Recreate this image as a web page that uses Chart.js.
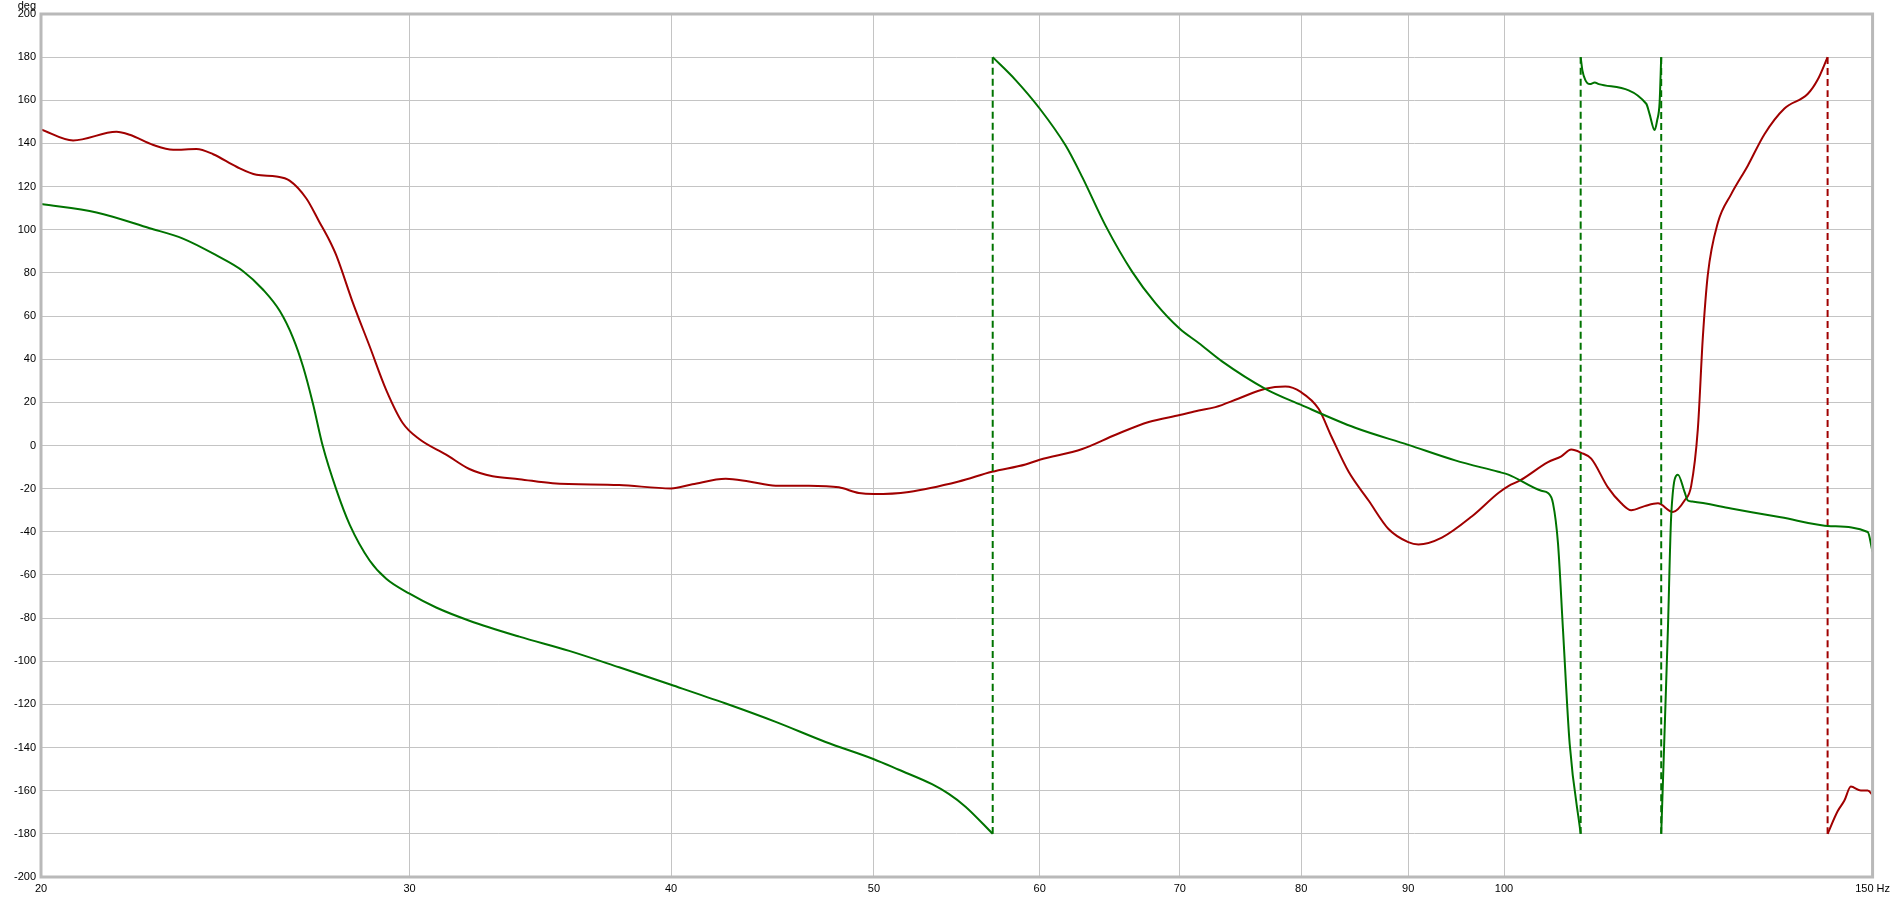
<!DOCTYPE html>
<html>
<head>
<meta charset="utf-8">
<script src="https://cdn.jsdelivr.net/npm/chart.js@4.4.1/dist/chart.umd.min.js"></script>
<style>
  html, body { margin: 0; padding: 0; background: #fff; }
  #wrap { position: relative; width: 1895px; height: 898px; }
</style>
</head>
<body>
<div id="wrap"><canvas id="phase"></canvas></div>
<script>
// axis ticks
const freqTicks = [20, 30, 40, 50, 60, 70, 80, 90, 100, 150];
const degTicks = [-200, -180, -160, -140, -120, -100, -80, -60, -40, -20, 0,
  20, 40, 60, 80, 100, 120, 140, 160, 180, 200];

// red trace (wrapped phase, deg)
const redHz = [20.0, 20.72, 21.73, 22.05, 22.63, 23.13, 23.73, 24.17, 24.8, 25.35,
  25.91, 26.29, 26.78, 27.17, 27.47, 27.68, 28.19, 28.71, 29.24, 29.78,
  30.33, 31.23, 32.04, 32.87, 33.85, 35.11, 37.78, 40.0, 40.95, 42.48,
  43.58, 44.88, 46.55, 48.11, 49.18, 50.0, 51.96, 54.89, 56.93, 59.07,
  60.0, 62.88, 65.23, 67.65, 70.0, 71.47, 72.8, 74.69, 76.91, 78.62,
  80.0, 81.55, 82.75, 84.29, 86.16, 88.07, 90.0, 91.02, 93.39, 96.51,
  99.38, 100.48, 101.78, 104.96, 106.51, 107.68, 108.87, 110.07, 112.11, 113.77,
  115.02, 116.73, 118.45, 120.42, 121.97, 122.86, 123.77, 124.45, 125.14, 126.52,
  128.38, 130.76, 133.18, 136.14, 139.66, 141.2, 142.76, 142.76, 144.34, 145.4,
  146.46, 148.07, 149.2, 150.0];
const redDeg = [146.5, 141.4, 145.4, 144, 139.3, 137.1, 137.4, 135, 129.2, 125.5,
  124.7, 122.8, 114.5, 103.5, 95, 88, 66, 46, 25.7, 10.3,
  2.9, -4.2, -10.9, -14.3, -15.6, -17.5, -18.3, -19.9, -18, -15.4,
  -16.7, -18.6, -18.6, -19.4, -22, -22.5, -21.5, -16.7, -12.2, -8.8,
  -6.6, -1.6, 5, 10.9, 14.1, 16.2, 17.8, 21.8, 26.3, 27.3,
  24.7, 17, 3.7, -12.2, -25.5, -38.7, -44.8, -45.9, -42.7, -32.9,
  -22, -18.8, -16.2, -7.7, -5, -1.9, -3.4, -6.1, -19.4, -26.8,
  -30, -28.1, -26.8, -30.8, -25.5, -18.8, 7.7, 50.1, 79.3, 103.2,
  116.4, 129.7, 144.3, 156.2, 162.9, 169.5, 180, -180, -169.5, -164.7,
  -158.1, -159.9, -159.9, -162];

// green trace (wrapped phase, deg)
const greenHz = [20.0, 21.26, 22.54, 23.38, 24.26, 24.98, 25.53, 26.01, 26.39, 26.68,
  26.97, 27.27, 27.68, 28.09, 28.71, 29.24, 30.0, 30.89, 32.04, 33.85,
  35.76, 37.78, 40.0, 42.48, 44.88, 47.41, 50.0, 51.39, 53.3, 54.29,
  55.3, 56.98, 56.98, 58.42, 60.0, 61.74, 62.88, 64.51, 66.42, 68.15,
  70.0, 71.47, 73.33, 76.91, 80.0, 84.9, 90.0, 94.77, 99.38, 100.48,
  104.19, 104.96, 105.54, 106.12, 106.7, 107.49, 108.8, 108.8, 109.0, 109.35,
  109.9, 110.5, 111.0, 116.94, 117.37, 118.02, 118.36, 118.67, 118.88, 118.88,
  119.76, 120.2, 121.09, 121.97, 122.42, 123.0, 128.38, 135.6, 143.28, 149.2,
  150.0];
const greenDeg = [111.9, 108, 100.7, 95.9, 88.1, 80.8, 72.3, 62.3, 49.9, 36.7,
  19.7, -0.4, -20.6, -36.8, -53.3, -61.8, -68.7, -75.1, -81.2, -88.6,
  -95.2, -102.8, -110.9, -119.6, -128.1, -137.4, -145.4, -150.3, -157, -161.5,
  -167.4, -180, 180, 169.5, 156.2, 139, 124.4, 101.9, 80.6, 66,
  54.1, 47.5, 39, 26.3, 18.8, 8.2, 0.3, -6.9, -12.2, -13.5,
  -21, -22, -26.8, -45.4, -85.1, -138.2, -180, 180, 174, 169.5,
  167.5, 168.2, 167.5, 158.4, 153.6, 146.2, 150.9, 158.9, 180, -180,
  -85.1, -32.1, -13.5, -21.5, -25.5, -26, -29.2, -33.3, -37.4, -40.1,
  -49.3];

const RED = 'rgb(160,0,0)';
const GREEN = 'rgb(0,115,0)';

function line(data, color, wrap) {
  return {
    data,
    borderColor: color,
    borderWidth: 2,
    borderDash: wrap ? [7, 4] : [],
    pointRadius: 0,
    fill: false,
    cubicInterpolationMode: 'monotone'
  };
}

// split a trace at each phase wrap; the wrap itself becomes a dashed vertical
function traceSets(hz, deg, color) {
  const sets = [];
  let cur = [];
  for (let i = 0; i < hz.length; i++) {
    if (i > 0 && Math.abs(deg[i] - deg[i - 1]) > 300) {
      sets.push(line(cur, color, false));
      sets.push(line([{x: hz[i - 1], y: deg[i - 1]}, {x: hz[i], y: deg[i]}], color, true));
      cur = [];
    }
    cur.push({x: hz[i], y: deg[i]});
  }
  sets.push(line(cur, color, false));
  return sets;
}

const font = {family: '"Liberation Sans", Arial, sans-serif', size: 11};

const frame = {
  id: 'frame',
  beforeDraw(chart) {
    const {ctx, width, height} = chart;
    ctx.save();
    ctx.fillStyle = '#fff';
    ctx.fillRect(0, 0, width, height);
    ctx.restore();
  },
  afterDraw(chart) {
    const {ctx, chartArea: a} = chart;
    ctx.save();
    ctx.strokeStyle = '#b9b9b9';
    ctx.lineWidth = 3;
    ctx.strokeRect(a.left, a.top, a.right - a.left, a.bottom - a.top);
    ctx.fillStyle = '#000';
    ctx.font = '11px "Liberation Sans", Arial, sans-serif';
    ctx.textAlign = 'right';
    ctx.textBaseline = 'top';
    ctx.fillText('deg', 36, 0);
    ctx.restore();
  }
};

new Chart(document.getElementById('phase'), {
  type: 'line',
  data: {
    datasets: [
      ...traceSets(greenHz, greenDeg, GREEN),
      ...traceSets(redHz, redDeg, RED)
    ]
  },
  options: {
    responsive: true,
    maintainAspectRatio: false,
    animation: false,
    layout: {padding: {left: 0, top: 14, right: 20, bottom: 0}},
    plugins: {legend: {display: false}, tooltip: {enabled: false}},
    scales: {
      x: {
        type: 'logarithmic',
        min: 20,
        max: 150,
        afterBuildTicks: s => { s.ticks = freqTicks.map(v => ({value: v})); },
        afterFit: s => { s.height = 21; },
        ticks: {
          autoSkip: false,
          maxRotation: 0,
          padding: 5,
          color: '#000',
          font,
          callback: v => v === 150 ? '150 Hz' : String(v)
        },
        grid: {color: '#c4c4c4', drawTicks: false},
        border: {display: false}
      },
      y: {
        type: 'linear',
        min: -200,
        max: 200,
        afterBuildTicks: s => { s.ticks = degTicks.map(v => ({value: v})); },
        afterFit: s => { s.width = 41; },
        ticks: {
          padding: 5,
          color: '#000',
          font,
          callback: v => String(v)
        },
        grid: {color: '#c4c4c4', drawTicks: false},
        border: {display: false}
      }
    }
  },
  plugins: [frame]
});
</script>
</body>
</html>
